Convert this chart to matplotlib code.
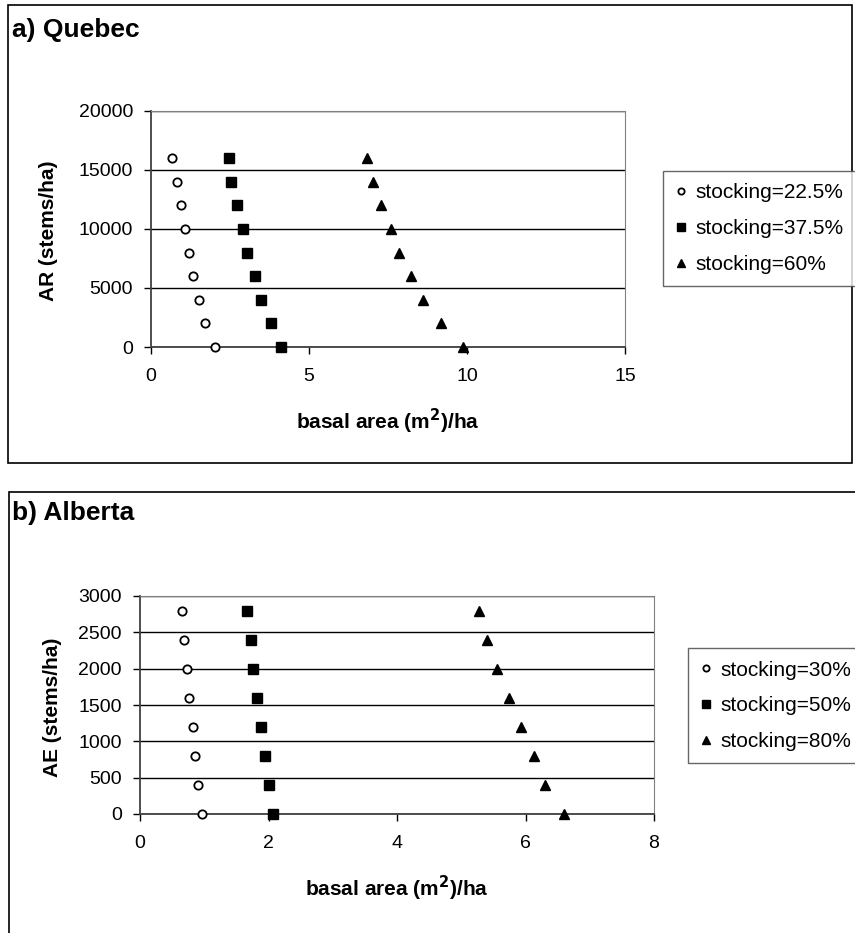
import matplotlib.pyplot as plt
from matplotlib.patches import Rectangle

plt.rcParams['font.family'] = ['Liberation Sans', 'DejaVu Sans']

# a) Quebec
qc_ar = [16000, 14000, 12000, 10000, 8000, 6000, 4000, 2000, 0]
qc_ba_225 = [0.67, 0.81, 0.94, 1.08, 1.20, 1.32, 1.51, 1.71, 2.03]
qc_ba_375 = [2.46, 2.53, 2.71, 2.91, 3.03, 3.29, 3.48, 3.80, 4.12]
qc_ba_60 = [6.84, 7.01, 7.27, 7.59, 7.85, 8.23, 8.60, 9.18, 9.86]
qc_labels = ['stocking=22.5%', 'stocking=37.5%', 'stocking=60%']

# b) Alberta
ab_ae = [2800, 2400, 2000, 1600, 1200, 800, 400, 0]
ab_ba_30 = [0.66, 0.69, 0.73, 0.76, 0.82, 0.85, 0.91, 0.97]
ab_ba_50 = [1.66, 1.73, 1.76, 1.82, 1.88, 1.94, 2.01, 2.07]
ab_ba_80 = [5.27, 5.40, 5.55, 5.74, 5.93, 6.14, 6.30, 6.60]
ab_labels = ['stocking=30%', 'stocking=50%', 'stocking=80%']

W, H = 855, 933
fig = plt.figure(figsize=(W / 100, H / 100), dpi=100)


def px_axes(left, top, right, bottom):
    return fig.add_axes([left / W, 1 - bottom / H, (right - left) / W, (bottom - top) / H])


def frame(left, top, right, bottom):
    fig.patches.append(Rectangle((left / W, 1 - bottom / H), (right - left) / W, (bottom - top) / H,
                                 transform=fig.transFigure, fill=False, edgecolor='black', lw=1.2))


def panel(ax, xs, y, labels, xlim, xticks, ylim, yticks, ylabel, ylabel_xy, title_xy, leg_xy):
    styles = [dict(marker='o', mfc='white', mec='black', mew=1.3, ms=6),
              dict(marker='s', mfc='black', mec='black', ms=7),
              dict(marker='^', mfc='black', mec='black', ms=7)]
    handles = []
    for x, lab, st in zip(xs, labels, styles):
        h, = ax.plot(x, y, ls='none', label=lab, clip_on=False, zorder=3, **st)
        handles.append(h)
    ax.set_xlim(*xlim)
    ax.set_ylim(*ylim)
    ax.set_xticks(xticks)
    ax.set_yticks(yticks)
    ax.yaxis.grid(True, color='black', lw=1)
    ax.set_axisbelow(True)
    for s in ['top', 'right']:
        ax.spines[s].set_color('#808080')
    for s in ['left', 'bottom']:
        ax.spines[s].set_color('#404040')
        ax.spines[s].set_linewidth(1.3)
    ax.tick_params(direction='out', length=5, width=1, labelsize=14)
    ax.tick_params(axis='y', pad=8)
    ax.tick_params(axis='x', pad=10)
    ax.set_xlabel('basal area (m$^{\\mathbf{2}}$)/ha', fontsize=15, fontweight='bold', labelpad=16)
    fig.text(ylabel_xy[0] / W, 1 - ylabel_xy[1] / H, ylabel, rotation=90, fontsize=15,
             fontweight='bold', ha='center', va='center')
    fig.text(title_xy[0] / W, 1 - title_xy[1] / H, title_xy[2], fontsize=19, fontweight='bold',
             va='center', ha='left')
    leg = fig.legend(handles=handles, loc='upper left', bbox_to_anchor=(leg_xy[0] / W, 1 - leg_xy[1] / H),
                     frameon=True, fancybox=False, edgecolor='#404040', fontsize=15,
                     handlelength=0.5, handletextpad=0.45, labelspacing=0.8, borderpad=0.6,
                     borderaxespad=0, markerscale=0.75)
    leg.get_frame().set_linewidth(1)


frame(8, 5, 852, 463)
frame(9, 492, 870, 960)

ax1 = px_axes(151, 111, 625, 347)
panel(ax1, [qc_ba_225, qc_ba_375, qc_ba_60], qc_ar, qc_labels, (0, 15), [0, 5, 10, 15],
      (0, 20000), [0, 5000, 10000, 15000, 20000], 'AR (stems/ha)', (49, 231),
      (12, 30, 'a) Quebec'), (663, 171))

ax2 = px_axes(140, 596, 654, 814)
panel(ax2, [ab_ba_30, ab_ba_50, ab_ba_80], ab_ae, ab_labels, (0, 8), [0, 2, 4, 6, 8],
      (0, 3000), list(range(0, 3001, 500)), 'AE (stems/ha)', (52, 707),
      (12, 513, 'b) Alberta'), (688, 648))

fig.savefig('out.png', dpi=100)
